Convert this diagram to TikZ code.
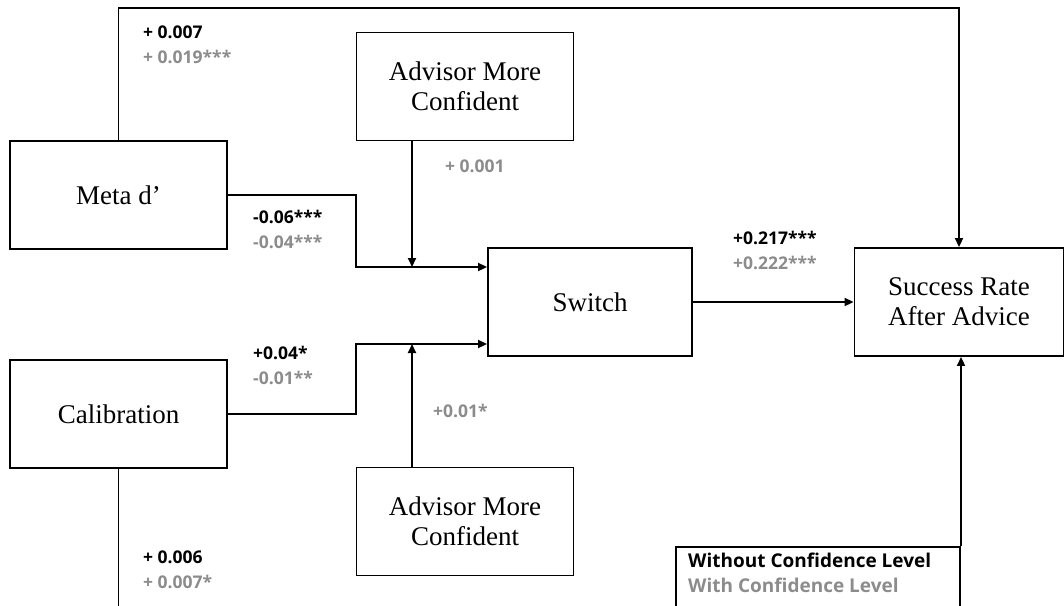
\documentclass[tikz,border=0pt]{standalone}
\usepackage{fontspec}
\setmainfont{Liberation Serif}
\newfontfamily\labfont{Open Sans}
\usetikzlibrary{arrows.meta}
\definecolor{withgray}{HTML}{8C8C8C}
\newcommand{\coef}[2]{\textcolor{black}{#1}\\\textcolor{withgray}{#2}}
\tikzset{
  varbox/.style={draw,line width=1.9pt,minimum width=217pt,minimum height=108pt,
    align=center,font=\fontsize{27}{30}\selectfont,inner sep=2pt},
  coeflab/.style={anchor=north west,align=left,inner sep=0pt,
    font=\labfont\bfseries\fontsize{17.5}{24.5}\selectfont},
  path/.style={line width=1.9pt},
  arr/.style={line width=1.9pt,-{Triangle[length=9pt,width=8pt]}}
}
\begin{document}
\begin{tikzpicture}[x=1pt,y=-1pt]
  \useasboundingbox (0,0) rectangle (1064,605);
  \clip (0,0) rectangle (1064,605);
  % boxes
  \node[varbox] (meta) at (118.5,195) {Meta d’};
  \node[varbox] (calib) at (118.5,414) {Calibration};
  \node[varbox] (advtop) at (465,86.5) {Advisor More\\Confident};
  \node[varbox] (advbot) at (465,521.5) {Advisor More\\Confident};
  \node[varbox,minimum width=204pt] (switch) at (590,302) {Switch};
  \node[varbox,minimum width=209pt] (success) at (959,302) {Success Rate\\After Advice};
  \node[draw,line width=1.9pt,anchor=north east,minimum width=284pt,minimum height=80pt,
        inner sep=0pt] (legend) at (961,546) {};
  \node[coeflab,font=\labfont\bfseries\fontsize{19}{24.5}\selectfont] (legtxt) at (688,553)
    {\coef{Without Confidence Level}{With Confidence Level}};
  % junctions
  \coordinate (jtop) at (412,267);
  \coordinate (jbot) at (412,344);
  \coordinate (tline) at (0,8);
  \coordinate (bline) at (0,640);
  % connectors
  \draw[arr] (meta.north) -- (meta.north |- tline) -| (success.north);
  \draw[arr] (meta.east) -- ++(128,0) |- (switch.west |- jtop);
  \draw[arr] (calib.east) -- ++(128,0) |- (switch.west |- jbot);
  \draw[arr] (advtop.south -| jtop) -- (jtop);
  \draw[arr] (advbot.north -| jbot) -- (jbot);
  \draw[arr] (switch.east) -- (success.west);
  \draw[path] (calib.south) -- (calib.south |- bline);
  \draw[arr] (legend.north east) -- (success.south -| legend.north east);
  % coefficients
  \node[coeflab] (cmetasr) at (143,26) {\coef{+ 0.007}{+ 0.019***}};
  \node[coeflab] (cmetasw) at (253,210) {\coef{-0.06***}{-0.04***}};
  \node[coeflab] (cadvtop) at (445,160) {\textcolor{withgray}{+ 0.001}};
  \node[coeflab] (ccalsw) at (253,346) {\coef{+0.04*}{-0.01**}};
  \node[coeflab] (cadvbot) at (433,404) {\textcolor{withgray}{+0.01*}};
  \node[coeflab] (cswsr) at (733,231) {\coef{+0.217***}{+0.222***}};
  \node[coeflab] (ccalsr) at (143,551) {\coef{+ 0.006}{+ 0.007*}};
\end{tikzpicture}
\end{document}
